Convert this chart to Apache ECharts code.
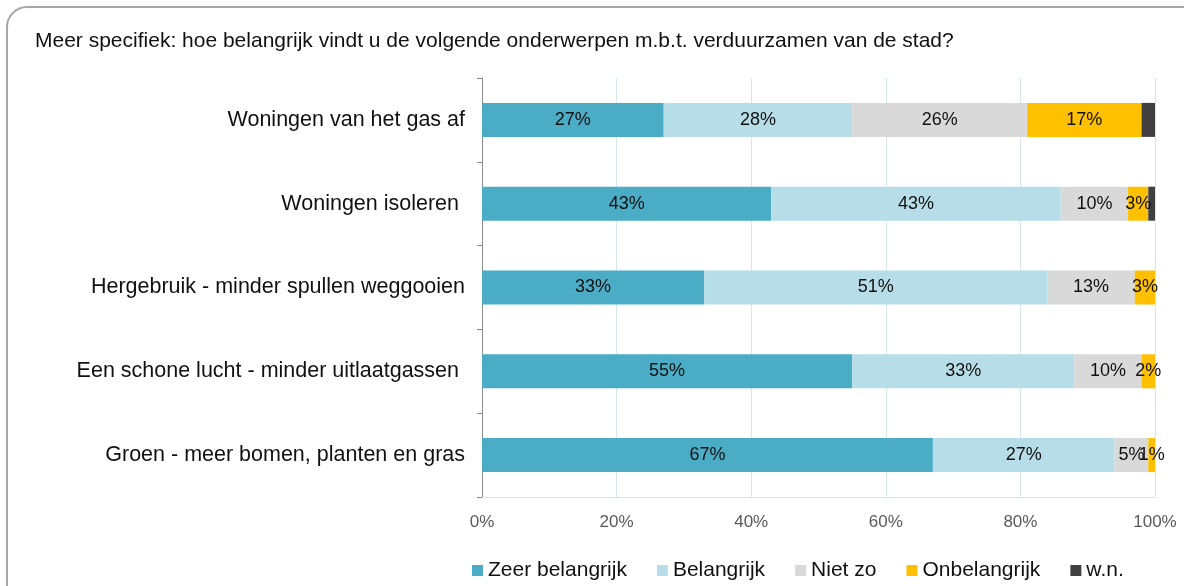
<!DOCTYPE html>
<html><head><meta charset="utf-8">
<script src="https://cdn.jsdelivr.net/npm/echarts@6/dist/echarts.min.js"></script>
<style>html,body{margin:0;padding:0;background:#fff}#c{width:1184px;height:586px}</style>
</head><body><div id="c"></div>
<script>
const categories = ["Woningen van het gas af", "Woningen isoleren ", "Hergebruik - minder spullen weggooien", "Een schone lucht - minder uitlaatgassen ", "Groen - meer bomen, planten en gras"];
const seriesNames = ["Zeer belangrijk", "Belangrijk", "Niet zo", "Onbelangrijk", "w.n."];
const zeerBelangrijk = [27, 43, 33, 55, 67];
const belangrijk = [28, 43, 51, 33, 27];
const nietZo = [26, 10, 13, 10, 5];
const onbelangrijk = [17, 3, 3, 2, 1];
const wn = [2, 1, 0, 0, 0];
const xTicks = [0, 20, 40, 60, 80, 100];
const title = "Meer specifiek: hoe belangrijk vindt u de volgende onderwerpen m.b.t. verduurzamen van de stad?";

const colors = ["#4BACC6", "#B7DEE8", "#D9D9D9", "#FFC000", "#404040"];
const showLabel = [true, true, true, true, false];
const data = [zeerBelangrijk, belangrijk, nietZo, onbelangrijk, wn];
const font = "Liberation Sans, Arial, sans-serif";

const chart = echarts.init(document.getElementById('c'), null, {renderer: 'canvas'});
chart.setOption({
  animation: false,
  textStyle: {fontFamily: font},
  graphic: [{type: 'rect', shape: {x: 7, y: 7, width: 1220, height: 620, r: 20}, style: {fill: 'none', stroke: '#A6A6A6', lineWidth: 2}, z: -1}],
  title: {text: title, left: 30, top: 26, textStyle: {fontFamily: font, fontSize: 21, fontWeight: 'normal', color: '#111'}},
  legend: {
    data: seriesNames, left: 467, top: 555, itemWidth: 11, itemHeight: 11, itemGap: 30, icon: 'rect',
    textStyle: {fontFamily: font, fontSize: 21, color: '#111'}
  },
  grid: {left: 482, right: 29, top: 78, bottom: 89},
  xAxis: {
    type: 'value', min: 0, max: 100, interval: 20,
    axisLine: {show: true, lineStyle: {color: '#D5E6EF'}},
    axisTick: {show: false},
    splitLine: {show: true, lineStyle: {color: '#D5E6EF'}},
    axisLabel: {formatter: v => xTicks.includes(v) ? v + '%' : '', fontSize: 17, color: '#595959', margin: 17, fontFamily: font}
  },
  yAxis: {
    type: 'category', data: categories, inverse: true,
    axisLine: {show: true, lineStyle: {color: '#8C8C8C'}},
    axisTick: {show: true, inside: false, length: 5, lineStyle: {color: '#8C8C8C'}},
    axisLabel: {fontSize: 21.5, color: '#111', margin: 17, fontFamily: font}
  },
  series: seriesNames.map((n, i) => ({
    name: n, type: 'bar', stack: 'total', barWidth: 34,
    itemStyle: {color: colors[i]},
    label: {show: showLabel[i], position: 'inside', formatter: p => p.value > 0 ? p.value + '%' : '', fontSize: 18, color: '#111', fontFamily: font},
    data: data[i]
  }))
});
</script></body></html>
